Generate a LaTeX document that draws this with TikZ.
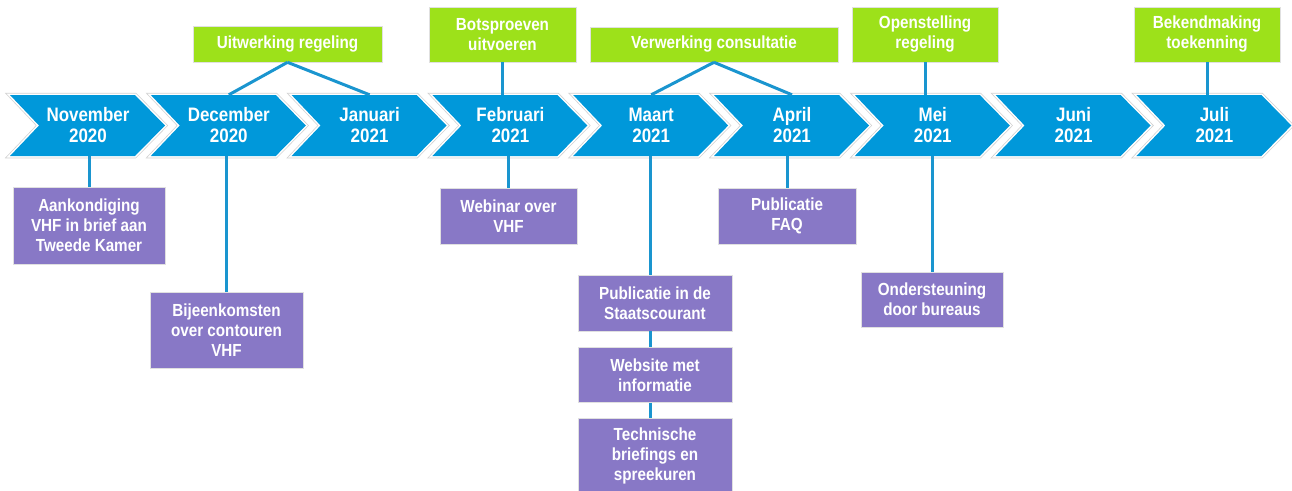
\documentclass[tikz,border=0pt]{standalone}
\usepackage{fontspec}
\setmainfont{Liberation Sans}[FakeStretch=0.87]
\usetikzlibrary{positioning}
\definecolor{monthBlue}{HTML}{0098DA}
\definecolor{linkBlue}{HTML}{1A95CF}
\definecolor{stepGreen}{HTML}{9DE11A}
\definecolor{actPurple}{HTML}{8878C6}
\newcommand\monthfont{\fontsize{19.5}{21}\selectfont\bfseries}
\newcommand\boxfont{\fontsize{17.5}{20}\selectfont\bfseries}
\tikzstyle{monthtext}=[text=white, align=center, font=\monthfont, minimum height=61pt, inner sep=0pt]
\tikzstyle{greenbox}=[fill=stepGreen, draw=black!12, line width=0.6pt, text=white, align=center, font=\boxfont, inner sep=0pt]
\tikzstyle{purplebox}=[fill=actPurple, draw=black!12, line width=0.6pt, text=white, align=center, font=\boxfont, inner sep=0pt]
\tikzstyle{link}=[draw=linkBlue, line width=3pt]

\begin{document}
\begin{tikzpicture}[x=1pt, y=-1pt]
\useasboundingbox (0,0) rectangle (1292,490);

% timeline
\foreach \name/\mon/\yr [count=\i from 0] in {nov/November/2020, dec/December/2020, jan/Januari/2021, feb/Februari/2021, mrt/Maart/2021, apr/April/2021, mei/Mei/2021, jun/Juni/2021, jul/Juli/2021} {
	\pgfmathsetmacro\L{10+140.8*\i}
	\path[fill=monthBlue, preaction={draw=black!18, line width=4.5pt}, preaction={draw=white, line width=3pt}]
		(\L,95) -- ++(125,0) -- ++(30,30.5) -- ++(-30,30.5) -- ++(-125,0) -- ++(29,-30.5) -- cycle;
	\node (\name) [monthtext] at (\L+78,125.5) {\mon\\\yr};
}

\node (uitw) [greenbox, minimum width=189pt, minimum height=36pt] at (287.5,44) {Uitwerking regeling};
\node (bots) [greenbox, minimum width=147pt, minimum height=55pt] at (502.5,34.5) {Botsproeven\\uitvoeren};
\node (verw) [greenbox, minimum width=248pt, minimum height=35pt] at (714,44.5) {Verwerking consultatie};
\node (open) [greenbox, minimum width=146pt, minimum height=55pt] at (925,34.5) {Openstelling\\regeling};
\node (bekm) [greenbox, minimum width=146pt, minimum height=55pt] at (1207,34.5) {Bekendmaking\\toekenning};

\node (aank) [purplebox, minimum width=152pt, minimum height=77pt] at (89,225.5) {Aankondiging\\VHF in brief aan\\Tweede Kamer};
\node (bijk) [purplebox, minimum width=153pt, minimum height=76pt] at (226.5,330) {Bijeenkomsten\\over contouren\\VHF};
\node (webi) [purplebox, minimum width=137pt, minimum height=56pt] at (508.5,216) {Webinar over\\VHF};
\node (publ) [purplebox, minimum width=154pt, minimum height=56pt] at (655,303) {Publicatie in de\\Staatscourant};
\node (site) [purplebox, minimum width=154pt, minimum height=55pt, below=16pt of publ] {Website met\\informatie};
\node (tech) [purplebox, minimum width=154pt, minimum height=76pt, below=15pt of site] {Technische\\briefings en\\spreekuren};
\node (faq) [purplebox, minimum width=138pt, minimum height=56pt] at (787,216) {Publicatie\\FAQ};
\node (onds) [purplebox, minimum width=142pt, minimum height=55pt] at (932,299.5) {Ondersteuning\\door bureaus};

\draw[link] (uitw.south) -- (dec.north);
\draw[link] (uitw.south) -- (jan.north);
\draw[link] (verw.south) -- (mrt.north);
\draw[link] (verw.south) -- (apr.north);
\draw[link] (bots.south) -- (bots.south |- feb.north);
\draw[link] (open.south) -- (open.south |- mei.north);
\draw[link] (bekm.south) -- (bekm.south |- jul.north);

\draw[link] (aank.north) -- (aank.north |- nov.south);
\draw[link] (bijk.north) -- (bijk.north |- dec.south);
\draw[link] (webi.north) -- (webi.north |- feb.south);
\draw[link] ([xshift=-5pt]publ.north) -- ([xshift=-5pt]publ.north |- mrt.south);
\draw[link] ([xshift=-5pt]publ.south) -- ([xshift=-5pt]site.north);
\draw[link] ([xshift=-5pt]site.south) -- ([xshift=-5pt]tech.north);
\draw[link] (faq.north) -- (faq.north |- apr.south);
\draw[link] (onds.north) -- (onds.north |- mei.south);
\end{tikzpicture}
\end{document}
